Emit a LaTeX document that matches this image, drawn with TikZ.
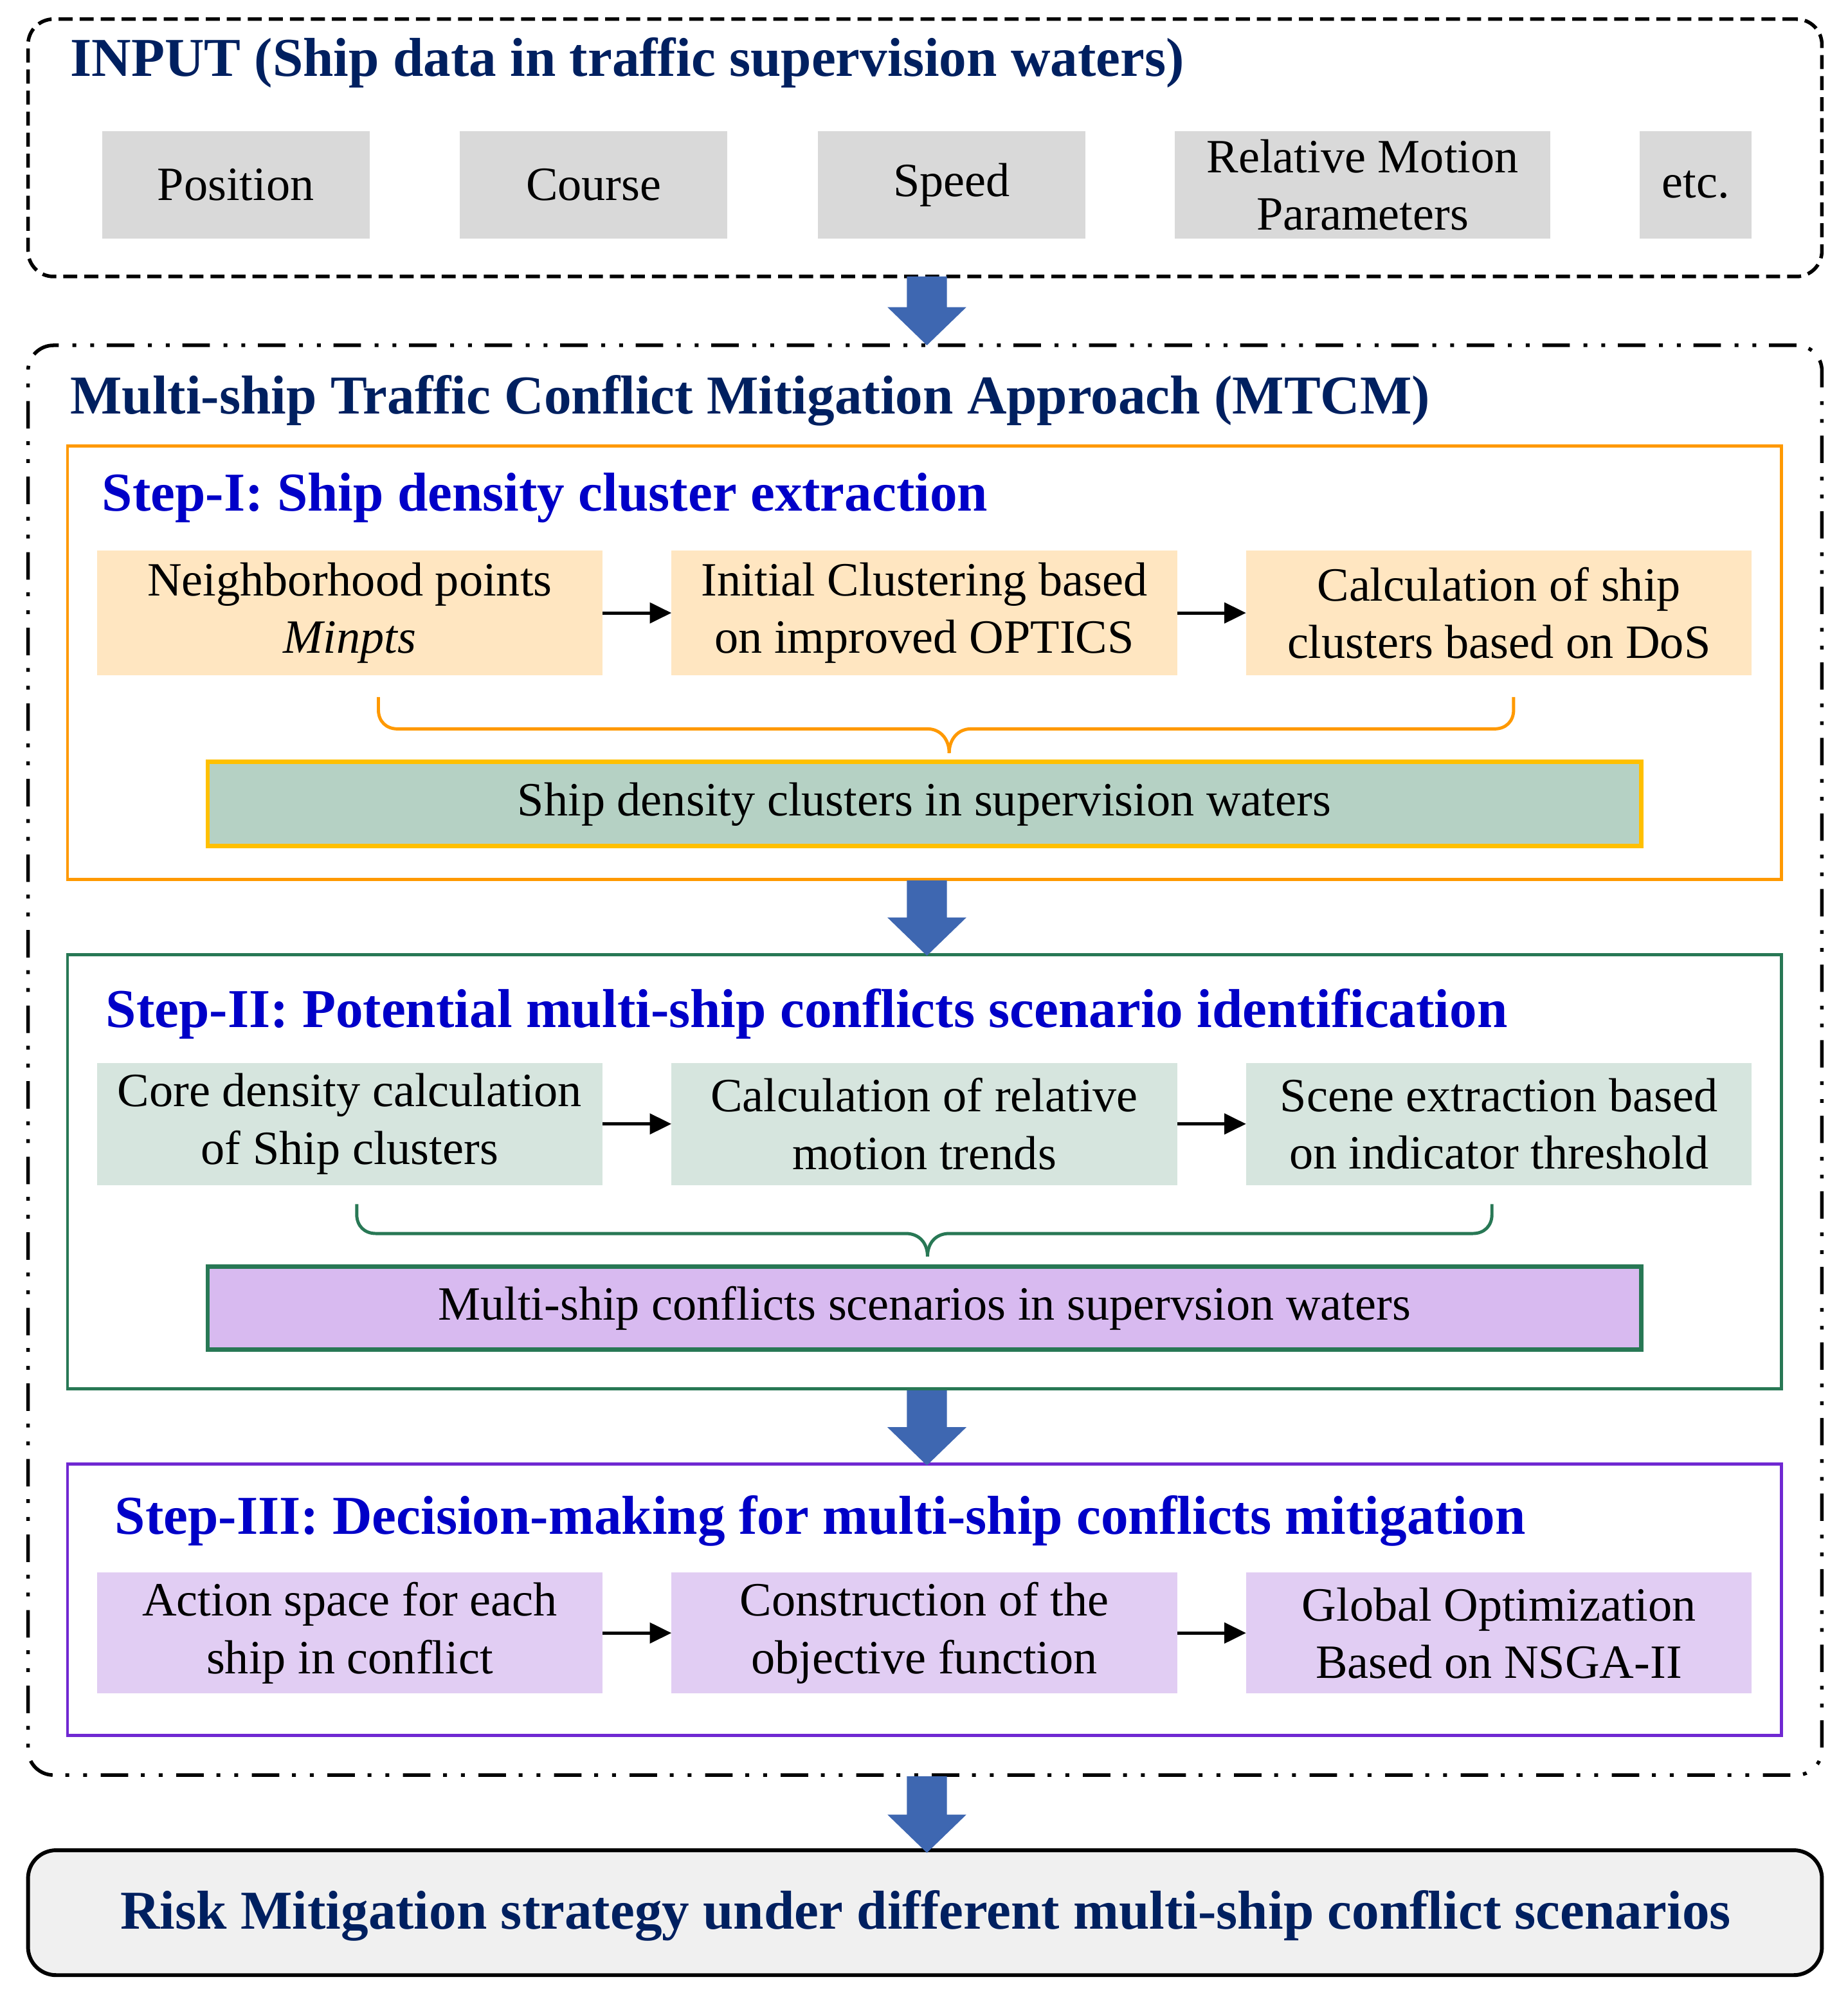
\documentclass[tikz,border=0pt]{standalone}
\usepackage{fontspec}
\setmainfont{Liberation Serif}
\usetikzlibrary{calc,arrows.meta}
\definecolor{navy}{RGB}{0,32,96}
\definecolor{stepblue}{RGB}{0,0,200}
\definecolor{grayfill}{RGB}{217,217,217}
\definecolor{orangeline}{RGB}{255,153,0}
\definecolor{yellowline}{RGB}{255,192,0}
\definecolor{peach}{RGB}{255,230,193}
\definecolor{sage}{RGB}{181,209,196}
\definecolor{greenline}{RGB}{40,120,85}
\definecolor{mint}{RGB}{214,229,222}
\definecolor{lilac}{RGB}{216,186,240}
\definecolor{violetline}{RGB}{112,40,210}
\definecolor{lavender}{RGB}{225,205,243}
\definecolor{finalfill}{RGB}{240,240,240}
\definecolor{arrowblue}{RGB}{62,103,177}
\newcommand{\blockarr}[2]{%
  \fill[arrowblue] ($(#1)+(-15.7,0)$) -- ($(#1)+(15.7,0)$) -- ($(#2)+(15.7,-30)$)
    -- ($(#2)+(31,-30)$) -- (#2) -- ($(#2)+(-31,-30)$) -- ($(#2)+(-15.7,-30)$) -- cycle;}
\begin{document}
\begin{tikzpicture}[x=1pt,y=-1pt,
  body/.style={font=\fontsize{37.5pt}{45pt}\selectfont, align=center, inner sep=0pt, outer sep=0pt},
  inbox/.style={body, fill=grayfill, minimum height=84pt},
  subbox/.style={body, minimum width=397pt},
  heading/.style={font=\fontsize{43pt}{50pt}\selectfont\bfseries, anchor=base west, inner sep=0pt},
  frame/.style={inner sep=0pt, outer sep=0pt, line width=2.5pt},
  resbox/.style={body, line width=3.5pt, minimum width=1125pt},
  flow/.style={line width=2.5pt, -{Triangle[length=17pt,width=16pt]}},
  brace/.style={line width=2.5pt}
]
\useasboundingbox (0,0) rectangle (1450,1571.1);

% ---------- INPUT ----------
\node[frame, draw=black, line width=2.8pt, dash pattern=on 11pt off 5.5pt, rounded corners=20pt,
      minimum width=1408pt, minimum height=202pt] (input) at (726,116) {};
\node[heading, text=navy] (inputtitle) at (55,60) {INPUT (Ship data in traffic supervision waters)};
\node[inbox, minimum width=210pt] (pos) at (185,145) {Position};
\node[inbox, minimum width=210pt] (course) at (466,145) {Course};
\node[inbox, minimum width=210pt] (speed) at (747,145) {Speed};
\node[inbox, minimum width=295pt] (rel) at (1069.5,145) {Relative Motion\\Parameters};
\node[inbox, minimum width=88pt] (etc) at (1331,145) {etc.};

% ---------- MTCM ----------
\node[frame, draw=black, line width=2.8pt, dash pattern=on 21.5pt off 10pt on 3pt off 11pt on 3pt off 10.8pt,
      rounded corners=20pt, minimum width=1408pt, minimum height=1122pt] (mtcm) at (726,832) {};
\node[heading, text=navy] (mtcmtitle) at (55,325) {Multi-ship Traffic Conflict Mitigation Approach (MTCM)};

% ---------- Step I ----------
\node[frame, draw=orangeline, minimum width=1345pt, minimum height=340pt] (s1) at (725.5,520) {};
\node[heading, text=stepblue] (s1title) at (80,401) {Step-I: Ship density cluster extraction};
\node[subbox, fill=peach, minimum height=98pt] (a1) at (274.5,481) {Neighborhood points\\\textit{Minpts}};
\node[subbox, fill=peach, minimum height=98pt] (a2) at (725.5,481) {Initial Clustering based\\on improved OPTICS};
\node[subbox, fill=peach, minimum height=98pt] (a3) at (1176.5,481) {Calculation of ship\\clusters based on DoS};
\draw[flow] (a1.east) -- (a2.west);
\draw[flow] (a2.east) -- (a3.west);
\draw[brace, orangeline] (297,547) -- (297,557) .. controls (297,566) and (303,572) .. (312,572)
  -- (728,572) .. controls (738,572) and (745,580) .. (745,591);
\draw[brace, orangeline] (745,591) .. controls (745,580) and (752,572) .. (762,572)
  -- (1173,572) .. controls (1182,572) and (1188,566) .. (1188,557) -- (1188,547);
\node[resbox, draw=yellowline, fill=sage, minimum height=66pt] (r1) at (725.5,631) {Ship density clusters in supervision waters};

% ---------- Step II ----------
\node[frame, draw=greenline, minimum width=1345pt, minimum height=341pt] (s2) at (725.5,919.5) {};
\node[heading, text=stepblue] (s2title) at (83,806) {Step-II: Potential multi-ship conflicts scenario identification};
\node[subbox, fill=mint, minimum height=96pt] (b1) at (274.5,882) {Core density calculation\\of Ship clusters};
\node[subbox, fill=mint, minimum height=96pt] (b2) at (725.5,882) {Calculation of relative\\motion trends};
\node[subbox, fill=mint, minimum height=96pt] (b3) at (1176.5,882) {Scene extraction based\\on indicator threshold};
\draw[flow] (b1.east) -- (b2.west);
\draw[flow] (b2.east) -- (b3.west);
\draw[brace, greenline] (280,945) -- (280,953) .. controls (280,962) and (286,968) .. (295,968)
  -- (711,968) .. controls (721,968) and (728,975) .. (728,986);
\draw[brace, greenline] (728,986) .. controls (728,975) and (735,968) .. (745,968)
  -- (1156,968) .. controls (1165,968) and (1171,962) .. (1171,953) -- (1171,945);
\node[resbox, draw=greenline, fill=lilac, minimum height=65pt] (r2) at (725.5,1026.5) {Multi-ship conflicts scenarios in supervsion waters};

% ---------- Step III ----------
\node[frame, draw=violetline, minimum width=1345pt, minimum height=213pt] (s3) at (725.5,1255.5) {};
\node[heading, text=stepblue] (s3title) at (90,1204) {Step-III: Decision-making for multi-ship conflicts mitigation};
\node[subbox, fill=lavender, minimum height=95pt] (c1) at (274.5,1281.5) {Action space for each\\ship in conflict};
\node[subbox, fill=lavender, minimum height=95pt] (c2) at (725.5,1281.5) {Construction of the\\objective function};
\node[subbox, fill=lavender, minimum height=95pt] (c3) at (1176.5,1281.5) {Global Optimization\\Based on NSGA-II};
\draw[flow] (c1.east) -- (c2.west);
\draw[flow] (c2.east) -- (c3.west);

% ---------- Output ----------
\node[frame, draw=black, line width=3pt, fill=finalfill, rounded corners=22pt,
      minimum width=1408pt, minimum height=98pt] (final) at (726,1501) {};
\node[font=\fontsize{43pt}{50pt}\selectfont\bfseries, text=navy, anchor=base, inner sep=0pt] (finaltxt) at (726.5,1514)
  {Risk Mitigation strategy under different multi-ship conflict scenarios};

% ---------- block arrows ----------
\coordinate (p1a) at (727.5,217);
\coordinate (p1b) at (727.5,271);
\coordinate (p2a) at (727.5,691);
\coordinate (p2b) at (727.5,750);
\coordinate (p3a) at (727.5,1091);
\coordinate (p3b) at (727.5,1150);
\coordinate (p4a) at (727.5,1394);
\coordinate (p4b) at (727.5,1454);
\blockarr{p1a}{p1b}
\blockarr{p2a}{p2b}
\blockarr{p3a}{p3b}
\blockarr{p4a}{p4b}
\end{tikzpicture}
\end{document}
